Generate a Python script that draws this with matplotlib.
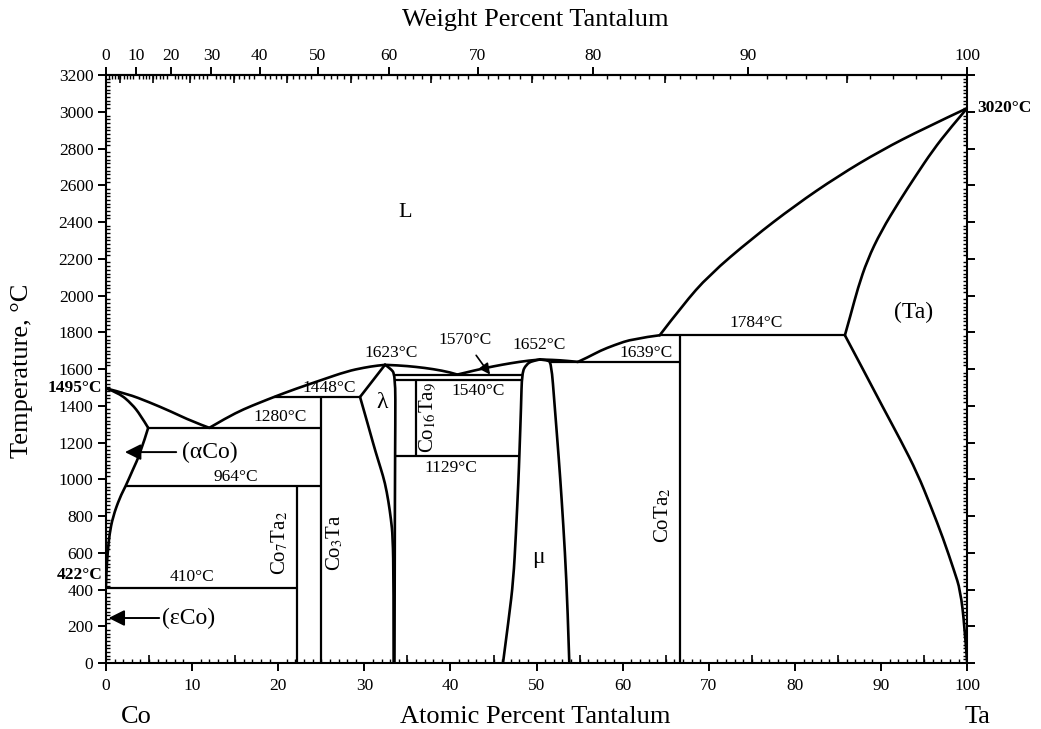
import numpy as np
import matplotlib.pyplot as plt
from matplotlib.ticker import MultipleLocator, FixedLocator
from matplotlib.path import Path
from matplotlib.patches import PathPatch
import matplotlib.transforms as mtransforms

plt.rcParams['font.family'] = ['Liberation Serif', 'DejaVu Serif']
plt.rcParams['mathtext.fontset'] = 'stix'

M_CO = 58.933
M_TA = 180.948

# melting / transformation points
co_melt = 1495
ta_melt = 3020
co_trans = 422
lam_max = 1623
mu_max = 1652

# liquidus pieces (atomic % Ta, deg C)
liq1_x = [0, 2.5, 5, 7.5, 10, 12]
liq1_t = [co_melt, 1465, 1420, 1370, 1315, 1280]
liq2_x = [12, 14, 16, 18, 19.5, 22, 25, 28, 30, 31.5, 32.4]
liq2_t = [1280, 1335, 1382, 1420, 1448, 1492, 1540, 1588, 1608, 1619, lam_max]
liq3_x = [32.4, 34, 36, 38, 40, 40.8]
liq3_t = [lam_max, 1620, 1612, 1600, 1582, 1570]
liq4_x = [40.8, 43, 45, 47, 49, 50.4]
liq4_t = [1570, 1595, 1615, 1632, 1646, mu_max]
liq5_x = [50.4, 52, 53.5, 54.8]
liq5_t = [mu_max, 1650, 1645, 1639]
liq6_x = [54.8, 56, 57.4, 59, 61.2, 64.3]
liq6_t = [1639, 1665, 1700, 1730, 1765, 1784]
liq7_x = [64.3, 67, 70, 75, 80, 85, 90, 95, 100]
liq7_t = [1784, 1950, 2110, 2310, 2490, 2650, 2790, 2910, ta_melt]

# (aCo) solidus and solvus
aco_sol_x = [0, 1.5, 3, 4, 4.9]
aco_sol_t = [co_melt, 1470, 1410, 1350, 1280]
aco_solv_x = [4.9, 4.0, 3.1, 2.3, 1.6, 0.8, 0.4, 0.2, 0.05, 0]
aco_solv_t = [1280, 1143, 1050, 964, 900, 795, 700, 600, 500, co_trans]

# lambda phase field
lam_top_x = [32.4, 29.5]
lam_top_t = [lam_max, 1448]
lam_l_x = [29.5, 30.1, 30.7, 31.3, 31.9, 32.4, 32.8, 33.1, 33.3, 33.4, 33.4]
lam_l_t = [1448, 1350, 1250, 1150, 1060, 980, 880, 780, 690, 450, 0]
lam_r_x = [32.4, 33.0, 33.6, 33.6, 33.55, 33.5]
lam_r_t = [lam_max, 1605, 1570, 1300, 1000, 0]

# mu phase field
mu_l_x = [50.4, 49.5, 48.8, 48.3, 48.2, 48.0, 47.9, 47.6, 47.3, 46.8, 46.1]
mu_l_t = [mu_max, 1645, 1625, 1580, 1400, 1129, 1000, 700, 450, 250, 0]
mu_r_x = [50.4, 51.2, 51.7, 52.1, 52.6, 52.9, 53.3, 53.6, 53.8]
mu_r_t = [mu_max, 1648, 1639, 1400, 1100, 900, 600, 300, 0]

# (Ta) solidus and solvus
ta_sol_x = [85.8, 86.5, 87.3, 88.4, 90, 92.2, 94, 96, 98, 100]
ta_sol_t = [1784, 1900, 2040, 2193, 2350, 2520, 2650, 2790, 2910, ta_melt]
ta_solv_x = [85.8, 88, 90.2, 92.3, 94.2, 95.8, 97.2, 98.5, 99.2, 99.7, 100]
ta_solv_t = [1784, 1590, 1393, 1210, 1034, 850, 680, 500, 397, 200, 0]

# invariant isotherms
iso_t = [1784, 1639, 1570, 1540, 1448, 1280, 1129, 964, 410]
iso_x0 = [64.3, 51.7, 33.6, 33.6, 19.5, 4.9, 33.55, 2.3, 0]
iso_x1 = [85.8, 66.7, 48.3, 48.3, 29.5, 25, 48.0, 25, 22.2]

# line compounds
cmp_x = [22.2, 25, 36, 66.7]
cmp_t0 = [0, 0, 1129, 0]
cmp_t1 = [964, 1448, 1540, 1784]

wt_ticks = np.arange(0, 101, 10)


def at2wt(a):
    a = np.asarray(a, dtype=float)
    return 100 * a * M_TA / (a * M_TA + (100 - a) * M_CO)


def wt2at(w):
    w = np.asarray(w, dtype=float)
    return 100 * (w / M_TA) / (w / M_TA + (100 - w) / M_CO)


def curve(ax, xs, ts, lw=1.9):
    # quadratic bezier through segment midpoints, so the boundary bends smoothly
    pts = np.column_stack([xs, ts])
    if len(pts) < 3:
        ax.plot(xs, ts, color='k', lw=lw, solid_capstyle='round')
        return
    verts = [pts[0]]
    codes = [Path.MOVETO]
    for i in range(1, len(pts) - 1):
        end = pts[-1] if i == len(pts) - 2 else (pts[i] + pts[i + 1]) / 2
        verts += [pts[i], end]
        codes += [Path.CURVE3, Path.CURVE3]
    ax.add_patch(PathPatch(Path(verts, codes), fill=False, lw=lw,
                           edgecolor='k', capstyle='round', joinstyle='round'))


fig = plt.figure(figsize=(10.41, 7.29), dpi=100)
ax = fig.add_axes([0.1018, 0.0905, 0.8273, 0.8065])
ax.set_xlim(0, 100)
ax.set_ylim(0, 3200)

for xs, ts in [(liq1_x, liq1_t), (liq2_x, liq2_t), (liq3_x, liq3_t),
               (liq4_x, liq4_t), (liq5_x, liq5_t), (liq6_x, liq6_t),
               (liq7_x, liq7_t), (aco_sol_x, aco_sol_t),
               (aco_solv_x, aco_solv_t), (lam_top_x, lam_top_t),
               (lam_l_x, lam_l_t), (lam_r_x, lam_r_t), (mu_l_x, mu_l_t),
               (mu_r_x, mu_r_t), (ta_sol_x, ta_sol_t), (ta_solv_x, ta_solv_t)]:
    curve(ax, xs, ts)

ax.hlines(iso_t, iso_x0, iso_x1, colors='k', lw=1.6)
ax.vlines(cmp_x, cmp_t0, cmp_t1, colors='k', lw=1.6)

# isotherm labels
fs = 12.5
lab_pos = {1784: (75.5, 1850), 1639: (62.7, 1687), 1540: (43.2, 1480),
           1448: (25.9, 1497), 1280: (20.2, 1339), 1129: (40.1, 1060),
           964: (15.1, 1012), 410: (10.0, 468)}
for t in iso_t:
    if t in lab_pos:
        px, py = lab_pos[t]
        ax.text(px, py, f'{t}°C', ha='center', va='center', fontsize=fs)
ax.text(33.1, 1687, f'{lam_max}°C', ha='center', va='center', fontsize=fs)
ax.text(50.3, 1731, f'{mu_max}°C', ha='center', va='center', fontsize=fs)
ax.annotate(f'{iso_t[2]}°C', xy=(44.6, iso_t[2]), xytext=(41.7, 1758),
            ha='center', va='center', fontsize=fs,
            arrowprops=dict(arrowstyle='-|>', color='k', lw=1.2,
                            mutation_scale=16, shrinkA=4, shrinkB=0))

# phase labels
ax.text(34.7, 2454, 'L', ha='center', va='center', fontsize=16)
ax.text(93.8, 1910, '(Ta)', ha='center', va='center', fontsize=17)
ax.text(32.1, 1420, 'λ', ha='center', va='center', fontsize=17)
ax.text(50.2, 577, 'μ', ha='center', va='center', fontsize=17)
ax.text(20.2, 655, r'Co$_7$Ta$_2$', rotation=90, ha='center', va='center', fontsize=15)
ax.text(26.6, 653, r'Co$_3$Ta', rotation=90, ha='center', va='center', fontsize=15)
ax.text(37.3, 1339, r'Co$_{16}$Ta$_9$', rotation=90, ha='center', va='center', fontsize=15)
ax.text(64.7, 805, r'CoTa$_2$', rotation=90, ha='center', va='center', fontsize=15)
ax.annotate('(αCo)', xy=(2.2, 1148), xytext=(8.8, 1148), ha='left', va='center',
            fontsize=17, arrowprops=dict(arrowstyle='-|>', color='k', lw=1.4,
                                         mutation_scale=24, shrinkA=2, shrinkB=0))
ax.annotate('(εCo)', xy=(0.3, 245), xytext=(6.5, 245), ha='left', va='center',
            fontsize=17, arrowprops=dict(arrowstyle='-|>', color='k', lw=1.4,
                                         mutation_scale=24, shrinkA=0, shrinkB=0))

# melting point labels outside the frame
tr = mtransforms.blended_transform_factory(ax.transAxes, ax.transData)
ax.text(-0.004, co_melt, f'{co_melt}°C', transform=tr, ha='right', va='center',
        fontsize=12.5, fontweight='bold')
ax.text(-0.004, 480, f'{co_trans}°C', transform=tr, ha='right', va='center',
        fontsize=12.5, fontweight='bold')
ax.text(1.012, ta_melt, f'{ta_melt}°C', transform=tr, ha='left', va='center',
        fontsize=12.5, fontweight='bold')

# frame and ticks
for s in ax.spines.values():
    s.set_linewidth(1.5)
ax.xaxis.set_major_locator(MultipleLocator(10))
ax.xaxis.set_minor_locator(MultipleLocator(1))
ax.yaxis.set_major_locator(MultipleLocator(200))
ax.yaxis.set_minor_locator(MultipleLocator(20))
ax.tick_params(axis='both', which='major', direction='out', length=6, width=1.4,
               labelsize=12.5, pad=3)
ax.tick_params(axis='both', which='minor', direction='in', length=3, width=1.0)
ax.tick_params(axis='y', which='both', right=True)
ax.tick_params(axis='y', which='major', right=True, labelright=False)
ax.tick_params(axis='x', which='major', pad=5)

# mid-length ticks at 5 at% along the bottom
bot5 = ax.secondary_xaxis('bottom')
bot5.xaxis.set_major_locator(FixedLocator(np.arange(5, 100, 10)))
bot5.tick_params(direction='in', length=6, width=1.2, labelbottom=False)
bot5.spines['bottom'].set_visible(False)

# weight percent scale on top
top = ax.secondary_xaxis('top', functions=(at2wt, wt2at))
top.xaxis.set_major_locator(FixedLocator(wt_ticks))
top.xaxis.set_minor_locator(FixedLocator(np.arange(0, 101, 1)))
top.tick_params(which='major', direction='out', length=6, width=1.4, labelsize=12.5, pad=2)
top.tick_params(which='minor', direction='in', length=3, width=1.0)
top.spines['top'].set_linewidth(1.5)
top5 = ax.secondary_xaxis('top', functions=(at2wt, wt2at))
top5.xaxis.set_major_locator(FixedLocator(np.arange(5, 100, 10)))
top5.tick_params(direction='in', length=6, width=1.2, labeltop=False)
top5.spines['top'].set_visible(False)

fig.text(0.514, 0.972, 'Weight Percent Tantalum', ha='center', va='center', fontsize=19)
fig.text(0.514, 0.017, 'Atomic Percent Tantalum', ha='center', va='center', fontsize=19)
fig.text(0.131, 0.017, 'Co', ha='center', va='center', fontsize=19)
fig.text(0.939, 0.017, 'Ta', ha='center', va='center', fontsize=19)
fig.text(0.021, 0.492, 'Temperature, °C', rotation=90, ha='center', va='center', fontsize=19)

fig.savefig('out.png', dpi=100)
